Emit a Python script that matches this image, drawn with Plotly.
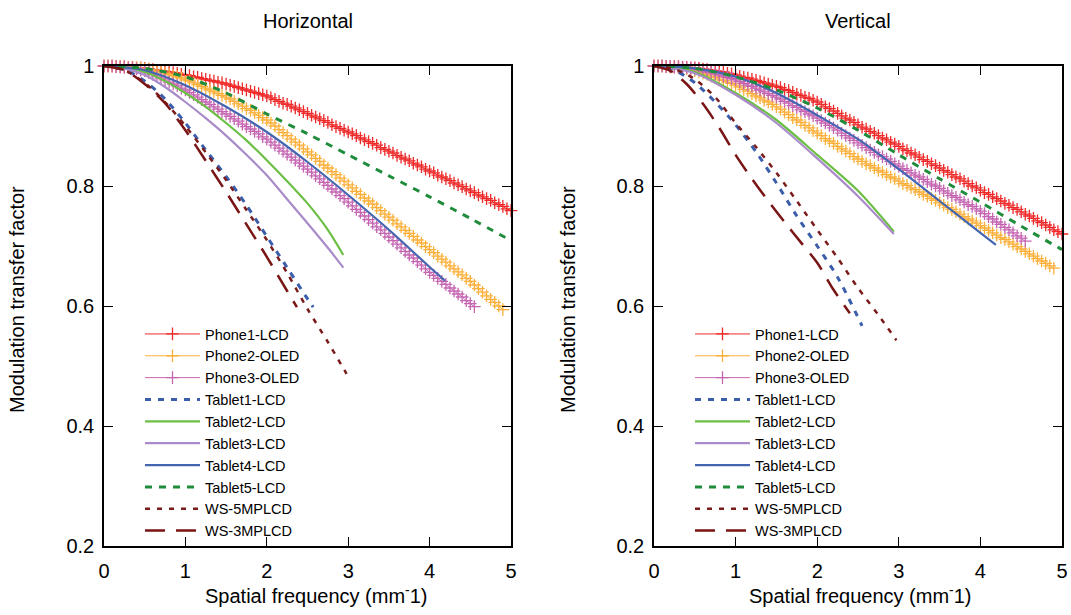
import plotly.graph_objects as go

# ---------------- data ----------------
STEP = 0.05  # sampling step of the marker series

# Horizontal panel
phone1_h = [1.000,1.000,1.000,0.999,0.999,0.999,0.998,0.998,0.997,0.997,0.996,
            0.995,0.994,0.993,0.992,0.991,0.990,0.989,0.988,0.986,0.985,
            0.984,0.982,0.981,0.979,0.978,0.976,0.975,0.973,0.972,0.970,
            0.968,0.966,0.964,0.962,0.960,0.958,0.956,0.954,0.952,0.950,
            0.947,0.944,0.941,0.938,0.936,0.933,0.930,0.927,0.924,0.921,
            0.918,0.915,0.912,0.909,0.906,0.902,0.899,0.896,0.893,0.890,
            0.887,0.884,0.880,0.877,0.874,0.871,0.868,0.864,0.861,0.858,
            0.855,0.851,0.848,0.845,0.842,0.838,0.835,0.832,0.828,0.825,
            0.822,0.818,0.815,0.812,0.809,0.805,0.802,0.799,0.795,0.792,
            0.789,0.785,0.782,0.779,0.776,0.772,0.769,0.766,0.762,0.759]
phone2_h = [1.000,1.000,1.000,0.999,0.999,0.998,0.998,0.997,0.997,0.996,0.995,
            0.994,0.993,0.991,0.990,0.988,0.986,0.984,0.982,0.980,0.977,
            0.975,0.972,0.969,0.966,0.963,0.960,0.957,0.954,0.951,0.948,
            0.945,0.941,0.937,0.933,0.929,0.926,0.922,0.918,0.914,0.910,
            0.905,0.900,0.894,0.889,0.884,0.878,0.873,0.868,0.862,0.857,
            0.852,0.846,0.841,0.835,0.830,0.824,0.819,0.813,0.808,0.802,
            0.797,0.791,0.786,0.780,0.775,0.770,0.764,0.759,0.753,0.748,
            0.743,0.737,0.732,0.726,0.721,0.716,0.710,0.705,0.699,0.694,
            0.689,0.683,0.678,0.673,0.667,0.662,0.657,0.652,0.646,0.641,
            0.635,0.629,0.623,0.617,0.611,0.606,0.600,0.594]
phone3_h = [1.000,1.000,1.000,0.999,0.998,0.998,0.997,0.996,0.995,0.993,0.992,
            0.989,0.986,0.983,0.980,0.977,0.973,0.970,0.967,0.963,0.960,
            0.956,0.952,0.948,0.944,0.940,0.936,0.932,0.928,0.924,0.920,
            0.916,0.912,0.908,0.903,0.899,0.895,0.891,0.887,0.882,0.878,
            0.873,0.868,0.863,0.858,0.853,0.848,0.843,0.838,0.833,0.828,
            0.823,0.817,0.812,0.806,0.801,0.795,0.790,0.784,0.779,0.773,
            0.767,0.761,0.756,0.750,0.744,0.738,0.732,0.727,0.721,0.715,
            0.709,0.703,0.697,0.691,0.685,0.680,0.674,0.668,0.662,0.656,
            0.651,0.646,0.641,0.636,0.630,0.625,0.620,0.615,0.609,0.604,0.599]

tablet1_h_x = [0, 0.25, 0.5, 0.75, 1, 1.25, 1.5, 1.75, 2, 2.25, 2.5, 2.57]
tablet1_h_y = [1, 0.994, 0.975, 0.945, 0.905, 0.86, 0.816, 0.768, 0.716, 0.664, 0.612, 0.598]
tablet2_h_x = [0, 0.25, 0.5, 0.75, 1, 1.25, 1.5, 1.75, 2, 2.25, 2.5, 2.75, 2.94]
tablet2_h_y = [1, 0.998, 0.99, 0.975, 0.955, 0.932, 0.905, 0.876, 0.843, 0.808, 0.771, 0.727, 0.685]
tablet3_h_x = [0, 0.25, 0.5, 0.75, 1, 1.25, 1.5, 1.75, 2, 2.25, 2.5, 2.75, 2.94]
tablet3_h_y = [1, 0.996, 0.985, 0.965, 0.94, 0.913, 0.884, 0.852, 0.818, 0.778, 0.738, 0.697, 0.664]
tablet4_h_x = [0, 0.5, 1, 1.5, 2, 2.5, 3, 3.5, 4, 4.19]
tablet4_h_y = [1, 0.993, 0.968, 0.932, 0.89, 0.84, 0.785, 0.727, 0.665, 0.642]
tablet5_h_x = [0, 0.5, 1, 1.5, 2, 2.5, 3, 3.5, 4, 4.5, 5]
tablet5_h_y = [1, 0.996, 0.982, 0.955, 0.92, 0.887, 0.852, 0.817, 0.782, 0.746, 0.709]
ws5_h_x = [0, 0.25, 0.5, 0.75, 1, 1.25, 1.5, 1.75, 2, 2.25, 2.5, 2.75, 2.98]
ws5_h_y = [1, 0.993, 0.972, 0.94, 0.9, 0.856, 0.81, 0.76, 0.71, 0.655, 0.595, 0.54, 0.487]
ws3_h_x = [0, 0.25, 0.5, 0.75, 1, 1.25, 1.5, 1.75, 2, 2.25, 2.37]
ws3_h_y = [1, 0.993, 0.97, 0.938, 0.893, 0.842, 0.79, 0.736, 0.682, 0.625, 0.598]

# Vertical panel
phone1_v = [1.000,1.000,1.000,0.999,0.999,0.999,0.999,0.998,0.998,0.997,0.997,
            0.996,0.995,0.994,0.993,0.992,0.991,0.990,0.988,0.987,0.985,
            0.983,0.981,0.980,0.978,0.976,0.974,0.972,0.970,0.968,0.966,
            0.964,0.961,0.959,0.956,0.953,0.951,0.948,0.946,0.943,0.940,
            0.936,0.932,0.929,0.925,0.921,0.917,0.913,0.910,0.906,0.902,
            0.898,0.895,0.891,0.888,0.884,0.880,0.877,0.873,0.870,0.866,
            0.862,0.859,0.855,0.852,0.848,0.844,0.841,0.837,0.834,0.830,
            0.826,0.823,0.819,0.815,0.812,0.808,0.804,0.800,0.797,0.793,
            0.789,0.786,0.782,0.779,0.775,0.771,0.768,0.764,0.761,0.757,
            0.753,0.750,0.746,0.742,0.739,0.735,0.731,0.727,0.724,0.720]
phone2_v = [1.000,1.000,1.000,0.999,0.998,0.998,0.997,0.996,0.995,0.994,0.992,
            0.990,0.988,0.986,0.983,0.981,0.978,0.976,0.973,0.971,0.968,
            0.965,0.961,0.958,0.954,0.950,0.947,0.943,0.940,0.936,0.932,
            0.928,0.923,0.919,0.914,0.910,0.906,0.901,0.897,0.892,0.888,
            0.884,0.879,0.875,0.871,0.866,0.862,0.858,0.854,0.849,0.845,
            0.841,0.837,0.834,0.830,0.826,0.823,0.819,0.815,0.812,0.808,
            0.804,0.801,0.797,0.794,0.790,0.786,0.783,0.779,0.776,0.772,
            0.768,0.764,0.761,0.757,0.753,0.749,0.745,0.742,0.738,0.734,
            0.730,0.726,0.722,0.718,0.714,0.711,0.707,0.703,0.699,0.695,
            0.691,0.687,0.683,0.679,0.675,0.671,0.667,0.663]
phone3_v = [1.000,1.000,1.000,0.999,0.999,0.998,0.998,0.997,0.997,0.996,0.995,
            0.994,0.992,0.990,0.989,0.987,0.985,0.983,0.981,0.979,0.977,
            0.974,0.971,0.968,0.966,0.963,0.960,0.957,0.954,0.951,0.948,
            0.945,0.941,0.938,0.934,0.931,0.927,0.924,0.920,0.917,0.913,
            0.909,0.905,0.901,0.897,0.893,0.888,0.884,0.880,0.876,0.872,
            0.868,0.864,0.860,0.856,0.852,0.849,0.845,0.841,0.837,0.833,
            0.829,0.826,0.822,0.818,0.815,0.811,0.807,0.803,0.800,0.796,
            0.792,0.788,0.784,0.781,0.777,0.773,0.769,0.766,0.762,0.758,
            0.754,0.749,0.745,0.740,0.736,0.731,0.727,0.722,0.717,0.713,0.708]

tablet1_v_x = [0, 0.25, 0.5, 0.75, 1, 1.25, 1.5, 1.75, 2, 2.25, 2.55]
tablet1_v_y = [1, 0.993, 0.972, 0.94, 0.902, 0.857, 0.805, 0.75, 0.7, 0.648, 0.567]
tablet2_v_x = [0, 0.5, 1, 1.5, 2, 2.5, 2.94]
tablet2_v_y = [1, 0.99, 0.955, 0.91, 0.852, 0.792, 0.724]
tablet3_v_x = [0, 0.5, 1, 1.5, 2, 2.5, 2.94]
tablet3_v_y = [1, 0.988, 0.952, 0.905, 0.846, 0.783, 0.72]
tablet4_v_x = [0, 0.5, 1, 1.5, 2, 2.5, 3, 3.5, 4, 4.19]
tablet4_v_y = [1, 0.996, 0.982, 0.955, 0.918, 0.878, 0.828, 0.775, 0.722, 0.702]
tablet5_v_x = [0, 0.5, 1, 1.5, 2, 2.5, 3, 3.5, 4, 4.5, 5]
tablet5_v_y = [1, 0.996, 0.982, 0.96, 0.93, 0.893, 0.852, 0.812, 0.773, 0.733, 0.694]
ws5_v_x = [0, 0.25, 0.5, 0.75, 1, 1.25, 1.5, 1.75, 2, 2.25, 2.5, 2.75, 2.97]
ws5_v_y = [1, 0.995, 0.978, 0.948, 0.905, 0.865, 0.822, 0.775, 0.727, 0.68, 0.63, 0.585, 0.543]
ws3_v_x = [0, 0.2, 0.4, 0.6, 0.8, 1.0, 1.2, 1.4, 1.6, 1.8, 2.0, 2.2, 2.4]
ws3_v_y = [1, 0.992, 0.97, 0.937, 0.897, 0.852, 0.812, 0.775, 0.74, 0.706, 0.672, 0.627, 0.588]

names = ["Phone1-LCD", "Phone2-OLED", "Phone3-OLED", "Tablet1-LCD", "Tablet2-LCD",
         "Tablet3-LCD", "Tablet4-LCD", "Tablet5-LCD", "WS-5MPLCD", "WS-3MPLCD"]
x_ticks = [0, 1, 2, 3, 4, 5]
y_ticks = [0.2, 0.4, 0.6, 0.8, 1]
y_tick_text = ["0.2", "0.4", "0.6", "0.8", "1"]
titles = ["Horizontal", "Vertical"]

# ---------------- styles ----------------
phone_colors = ["#ee2a2a", "#fbb03b", "#c565b2"]
line_styles = {
    "Tablet1-LCD": dict(color="#3b5eab", width=3, dash="6px,7px"),
    "Tablet2-LCD": dict(color="#6cbf45", width=2.2),
    "Tablet3-LCD": dict(color="#a98bc9", width=2.2),
    "Tablet4-LCD": dict(color="#4466b0", width=2.2),
    "Tablet5-LCD": dict(color="#1f8c3b", width=3, dash="7px,7px"),
    "WS-5MPLCD": dict(color="#7b1c1c", width=2.5, dash="5px,7px"),
    "WS-3MPLCD": dict(color="#7a1515", width=2.5, dash="20px,11px"),
}

FONT = "Liberation Sans, Arial, sans-serif"
W, H = 1071, 615

fig = go.Figure()

panels = [
    dict(xa="x", ya="y", leg="legend",
         phones=[phone1_h, phone2_h, phone3_h],
         lines=[(tablet1_h_x, tablet1_h_y), (tablet2_h_x, tablet2_h_y), (tablet3_h_x, tablet3_h_y),
                (tablet4_h_x, tablet4_h_y), (tablet5_h_x, tablet5_h_y), (ws5_h_x, ws5_h_y),
                (ws3_h_x, ws3_h_y)]),
    dict(xa="x2", ya="y2", leg="legend2",
         phones=[phone1_v, phone2_v, phone3_v],
         lines=[(tablet1_v_x, tablet1_v_y), (tablet2_v_x, tablet2_v_y), (tablet3_v_x, tablet3_v_y),
                (tablet4_v_x, tablet4_v_y), (tablet5_v_x, tablet5_v_y), (ws5_v_x, ws5_v_y),
                (ws3_v_x, ws3_v_y)]),
]

for p in panels:
    for i, ys in enumerate(p["phones"]):
        xs = [round(STEP * k, 2) for k in range(len(ys))]
        c = phone_colors[i]
        fig.add_trace(go.Scatter(
            x=xs, y=ys, name=names[i], mode="lines+markers", xaxis=p["xa"], yaxis=p["ya"],
            legend=p["leg"], cliponaxis=False,
            line=dict(color=c, width=1),
            marker=dict(symbol="cross-thin", size=9, color=c, line=dict(color=c, width=1.3)),
        ))
    for j, (xs, ys) in enumerate(p["lines"]):
        nm = names[3 + j]
        fig.add_trace(go.Scatter(
            x=xs, y=ys, name=nm, mode="lines", xaxis=p["xa"], yaxis=p["ya"],
            legend=p["leg"], line=dict(shape="spline", smoothing=0.8, **line_styles[nm]),
        ))

px_x = lambda v: v / W
px_y = lambda v: (H - v) / H

ydom = [px_y(546), px_y(66)]
axis_common = dict(
    showline=True, linecolor="black", linewidth=1.5, mirror="ticks",
    ticks="inside", ticklen=9, tickwidth=1.2, tickcolor="black",
    showgrid=False, zeroline=False, automargin=False,
    tickfont=dict(family=FONT, size=20, color="black"),
)
fig.update_layout(
    xaxis=dict(domain=[px_x(104), px_x(511)], range=[0, 5], tickvals=x_ticks,
               anchor="y", ticklabelstandoff=6, **axis_common),
    yaxis=dict(domain=ydom, range=[0.2, 1], tickvals=y_ticks, ticktext=y_tick_text,
               anchor="x", ticklabelstandoff=4, **axis_common),
    xaxis2=dict(domain=[px_x(654), px_x(1062)], range=[0, 5], tickvals=x_ticks,
                anchor="y2", ticklabelstandoff=6, **axis_common),
    yaxis2=dict(domain=ydom, range=[0.2, 1], tickvals=y_ticks, ticktext=y_tick_text,
                anchor="x2", ticklabelstandoff=4, **axis_common),
)

leg_common = dict(
    xanchor="left", yanchor="top", bgcolor="rgba(0,0,0,0)", borderwidth=0,
    font=dict(family=FONT, size=14.5, color="black"), tracegroupgap=0, itemwidth=55,
)
fig.update_layout(
    legend=dict(x=px_x(140), y=px_y(318), **leg_common),
    legend2=dict(x=px_x(690), y=px_y(318), **leg_common),
)

annots = []
for k, (cx, ycx, ytx) in enumerate([(307.5, 316, 17), (858, 860, 568)]):
    annots.append(dict(text=titles[k], x=px_x(cx), y=px_y(21), xref="paper", yref="paper",
                       showarrow=False, xanchor="center", yanchor="middle",
                       font=dict(family=FONT, size=20, color="black")))
    annots.append(dict(text="Spatial frequency (mm<sup>-</sup>1)", x=px_x(ycx), y=px_y(594),
                       xref="paper", yref="paper", showarrow=False, xanchor="center",
                       yanchor="middle", font=dict(family=FONT, size=20, color="black")))
    annots.append(dict(text="Modulation transfer factor", x=px_x(ytx), y=px_y(300),
                       xref="paper", yref="paper", showarrow=False, textangle=-90,
                       xanchor="center", yanchor="middle",
                       font=dict(family=FONT, size=20, color="black")))

fig.update_layout(
    width=W, height=H, margin=dict(l=0, r=0, t=0, b=0, autoexpand=False),
    paper_bgcolor="white", plot_bgcolor="white",
    annotations=annots, showlegend=True,
)

fig.write_html(
    "out.html",
    config={"displayModeBar": False},
    post_script="document.body.style.margin='0';document.body.style.overflow='hidden';",
)
